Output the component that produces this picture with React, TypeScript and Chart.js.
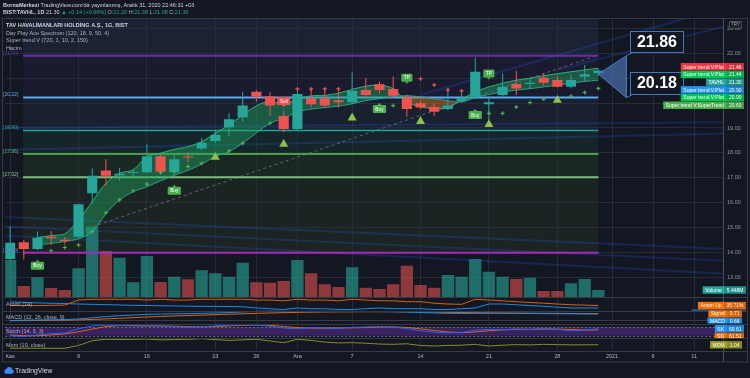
import React, { useEffect, useRef } from 'react';
import { Chart, registerables } from 'chart.js';

Chart.register(...registerables);

const FONT = '"Liberation Sans", "DejaVu Sans", Arial, sans-serif';
const BG = '#131722';
const GRID = 'rgba(42,46,57,0.9)';
const UP = '#26a69a';
const DOWN = '#ef5350';
const TEXT = '#d1d4dc';
const MUTED = '#aeb1ba';

// ---------- data ----------
const dates = ['2 Kas','3 Kas','4 Kas','5 Kas','6 Kas','9 Kas','10 Kas','11 Kas','12 Kas','13 Kas','16 Kas','17 Kas','18 Kas','19 Kas','20 Kas','23 Kas','24 Kas','25 Kas','26 Kas','27 Kas','30 Kas','1 Ara','2 Ara','3 Ara','4 Ara','7 Ara','8 Ara','9 Ara','10 Ara','11 Ara','14 Ara','15 Ara','16 Ara','17 Ara','18 Ara','21 Ara','22 Ara','23 Ara','24 Ara','25 Ara','28 Ara','29 Ara','30 Ara','31 Ara'];
const opens = [13.74,14.41,14.14,14.63,14.51,14.63,16.38,17.29,17.10,17.19,17.22,17.87,17.22,17.86,18.18,18.48,19.03,19.43,20.46,20.28,19.48,18.96,20.19,20.19,20.11,20.03,20.53,20.76,20.57,20.19,19.99,19.84,19.76,20.08,20.26,19.95,20.33,20.77,20.77,21.02,20.93,20.66,21.06,21.20];
const highs = [15.04,14.50,14.84,14.86,14.62,15.96,17.38,17.75,17.40,17.36,18.35,17.94,17.95,18.04,18.60,18.93,19.59,20.46,20.52,20.44,19.68,20.57,20.56,20.52,20.52,21.24,21.01,20.87,21.07,20.33,20.10,19.98,20.50,20.45,21.82,20.26,21.20,21.30,21.00,21.20,21.10,21.15,21.53,21.38];
const lows = [13.70,13.72,14.10,14.30,14.33,14.58,15.97,16.68,16.88,17.08,17.18,17.20,17.10,17.62,18.10,18.40,18.66,19.25,20.05,19.48,18.83,18.90,19.82,19.80,19.82,19.95,20.25,20.40,20.21,19.45,19.75,19.48,19.70,20.00,20.15,19.32,20.20,20.33,20.60,20.70,20.62,20.60,20.86,21.08];
const closes = [14.39,14.14,14.59,14.57,14.46,15.94,17.08,17.08,17.16,17.21,17.87,17.24,17.75,17.82,18.41,18.72,19.35,19.90,20.26,19.90,18.96,20.37,19.95,19.90,20.03,20.49,20.33,20.53,20.30,19.76,19.82,19.65,19.90,20.19,21.26,20.03,20.66,20.59,20.82,20.82,20.66,20.93,21.16,21.30];
const volumes = [28.8,8.6,15.3,7.0,5.4,22.3,54.7,35.8,30.6,11.4,31.9,11.7,15.8,13.8,20.8,18.4,15.8,26.7,11.4,11.1,12.5,28.8,18.4,9.9,7.8,23.1,7.2,6.2,9.9,24.4,9.3,7.2,17.1,15.8,29.6,19.7,15.8,14.0,15.0,4.7,4.7,10.7,14.0,5.448];

const bandFast = [null,null,14.60,14.68,14.75,15.30,16.04,16.78,17.18,17.32,17.85,17.99,18.14,18.25,18.45,18.79,19.12,19.52,19.89,20.08,19.95,20.15,20.29,20.31,20.40,20.55,20.68,20.72,20.58,20.05,19.85,19.78,19.80,20.15,20.45,20.65,20.80,20.92,21.00,21.10,21.18,21.26,21.33,21.40];
const bandSlow = [null,null,14.30,14.37,14.44,14.55,14.83,15.55,16.11,16.44,16.64,16.88,17.10,17.30,17.55,17.85,18.05,18.39,18.80,19.19,19.39,19.65,19.76,19.82,19.88,19.97,20.10,20.18,20.25,20.30,20.25,20.18,20.10,20.05,20.22,20.35,20.45,20.52,20.58,20.65,20.72,20.80,20.87,20.92];

const greenDotIdx = [3,4,5,6,7,8,9,10,11,12,13,14,16,17,19,28,35,36,37,38,39,41,42,43];
const greenDotVal = [14.07,14.20,14.30,14.84,15.60,16.11,16.48,16.75,17.21,17.25,17.45,17.58,18.08,18.39,19.19,19.90,19.59,19.59,19.84,20.02,20.16,20.28,20.43,20.59];
const redDotIdx = [21,22,23,24,30,31,32,33];
const redDotVal = [20.57,20.57,20.57,20.57,20.97,20.73,20.53,20.49];
const triangleIdx = [15,20,25,30,35,40];
const triangleVal = [17.83,18.35,19.41,19.27,19.14,20.12];

const signalIdx = [2,12,20,27,29,34,35];
const signalText = ['Buy','Buy','Sell','Buy','TP','Buy','TP'];
const signalVal = [13.47,16.48,20.08,19.76,21.02,19.52,21.19];

const levelValues = [21.90, 20.22, 18.90, 17.96, 17.02, 13.99];
const levelTags = ['[21.90]', '[20.22]', '[18.90]', '[17.96]', '[17.02]', '[13.99]'];
const levelColors = ['#6a2fb0', '#5aa9f5', '#1fa597', '#43a047', '#7cc07f', '#a52bb8'];
const levelTagColors = ['#5a3a9a', '#5aa9f5', '#1fa597', '#5fb062', '#8ccf8e', '#7c6cd0'];
const zoneColors = ['#1b2234', '#1b1b2f', '#19202f', '#15252a', '#1a2723', '#1c2423'];
const zoneIdx = [0.95, 43];

const channels = [
  [-1, 15.44, 54, 14.10],
  [-1, 15.06, 54, 13.62],
  [-1, 14.70, 54, 13.10],
  [-1, 19.00, 54, 19.24],
  [-1, 18.11, 54, 18.80],
  [30, 20.33, 54, 24.14],
  [40, 21.33, 54, 23.34],
];
const trendFrom = [6.04, 15.04];
const trendTo = [43, 21.93];

const calloutTexts = ['21.86', '20.18'];
const calloutAnchorIdx = 45.05;
const calloutApex = [43, 21.17];

const aroonUp = [36,36,36,38,40,86,93,93,93,93,86,93,86,86,93,93,93,93,86,86,79,93,86,86,79,93,86,79,79,71,71,57,50,47,93,86,79,71,64,57,50,43,40,35.71];
const aroonDown = [69,64,60,57,54,50,47,44,41,38,36,34,32,30,29,28,27,25,14,7,0,14,7,7,0,0,7,14,7,7,7,0,0,7,14,50,50,43,36,29,21,14,14,14.29];
const macdLine = [-0.05,-0.03,0,0.02,0.04,0.12,0.25,0.38,0.48,0.55,0.62,0.66,0.69,0.71,0.74,0.78,0.83,0.90,0.96,0.98,0.97,0.95,0.97,0.97,0.96,0.96,0.95,0.94,0.92,0.88,0.83,0.78,0.74,0.72,0.74,0.74,0.74,0.73,0.72,0.71,0.70,0.69,0.67,0.66];
const macdSignal = [-0.08,-0.07,-0.05,-0.03,-0.02,0.01,0.06,0.12,0.19,0.26,0.33,0.39,0.45,0.50,0.54,0.59,0.64,0.69,0.74,0.78,0.82,0.85,0.87,0.89,0.90,0.91,0.92,0.92,0.92,0.91,0.90,0.88,0.85,0.83,0.81,0.79,0.78,0.77,0.76,0.75,0.74,0.73,0.72,0.71];
const stochK = [20,15,25,35,40,70,90,95,92,90,88,90,85,80,85,90,95,97,95,88,75,70,78,75,72,80,82,85,82,70,55,45,40,42,60,65,62,68,65,70,66,55,60,69.61];
const stochD = [25,20,20,25,33,48,67,85,92,92,90,89,88,85,83,85,90,94,96,93,86,78,74,74,75,76,78,82,83,79,69,57,47,42,47,56,62,65,65,68,67,64,60,61.51];
const stochBand = [80, 20];
const momentum = [-0.2,-0.2,-0.2,-0.2,-0.2,0.8,2.5,3.0,2.9,3.0,3.1,2.8,2.9,3.0,3.2,2.9,2.6,2.8,3.0,2.4,1.8,3.0,2.6,2.0,1.7,1.8,1.6,1.3,1.2,1.4,0.8,0.6,0.8,0.9,1.2,0.6,0.9,1.1,1.0,1.2,1.1,1.0,1.05,1.04];

const xTickIdx = [0, 5, 10, 15, 18, 21, 25, 30, 35, 40, 44, 47, 50];
const xTickLabels = ['Kas', '9', '16', '23', '26', 'Ara', '7', '14', '21', '28', '2021', '6', '11'];
const priceTicks = [13, 14, 15, 16, 17, 18, 19, 20, 21, 22, 23];
const xView = [-0.36, 52.11];

const upperTagNames = ['Super trend V:Plot', 'Super trend V:Plot', 'TAVHL', 'Super trend V:Plot', 'Super trend V:Plot', 'Super trend V:SuperTrend'];
const upperTagValues = [21.46, 21.44, 21.30, 20.90, 20.90, 20.60];
const upperTagColors = ['#f23645', '#00c853', '#26a69a', '#2196f3', '#00c853', '#4caf50'];

// ---------- layout ----------
const CA_TOP = 18;
const CA_BOTTOM = 350;
const PANES = { main: [18, 297], aroon: [297, 310.5], macd: [310.5, 323.5], stoch: [323.5, 338], mom: [338, 350.5] };

function axisRange(v1: number, y1: number, v2: number, y2: number) {
  const k = (y1 - y2) / (v2 - v1);
  const min = v1 - (CA_BOTTOM - y1) / k;
  return { min, max: min + (CA_BOTTOM - CA_TOP) / k };
}

const rPrice = axisRange(13, 277.4, 23, 28.4);
const rVol = axisRange(0, 297, 100, 297 - 128.5);
const rAroon = axisRange(0, 309.5, 100, 298.5);
const rMacd = axisRange(0, 320, 1, 311);
const rStoch = axisRange(0, 338.5, 100, 324.5);
const rMom = axisRange(0, 347.7, 1, 344.9);

const isUp = (i: number) => closes[i] >= opens[i];

function drawTag(ctx: any, rightX: number, cy: number, name: string, value: string, color: string) {
  ctx.font = `5px ${FONT}`;
  const nw = ctx.measureText(name).width;
  const vw = ctx.measureText(value).width;
  const w = nw + vw + 10;
  const h = 7.4;
  const x0 = rightX - w;
  ctx.fillStyle = color;
  ctx.fillRect(x0, cy - h / 2, w, h);
  ctx.fillStyle = 'rgba(0,0,0,0.12)';
  ctx.fillRect(x0 + nw + 5, cy - h / 2, vw + 5, h);
  ctx.fillStyle = '#ffffff';
  ctx.textAlign = 'left';
  ctx.textBaseline = 'middle';
  ctx.fillText(name, x0 + 2.5, cy + 0.4);
  ctx.fillText(value, x0 + nw + 7.5, cy + 0.4);
}

function drawStack(ctx: any, items: any[], rightX: number, clip: number[]) {
  const placed = items.map((it) => ({ ...it })).sort((a, b) => a.y - b.y);
  let prev = -1e9;
  placed.forEach((p) => { p.cy = Math.max(p.y, prev + 7.7); prev = p.cy; });
  ctx.save();
  ctx.beginPath();
  ctx.rect(0, clip[0], 750, clip[1] - clip[0]);
  ctx.clip();
  for (let k = placed.length - 1; k >= 0; k--) {
    const p = placed[k];
    drawTag(ctx, rightX, p.cy, p.name, p.value, p.color);
  }
  ctx.restore();
}

function drawRuns(ctx: any, x: number, y: number, runs: any[], size: number) {
  let cx = x;
  for (const [text, color, bold] of runs) {
    ctx.font = `${bold ? 'bold ' : ''}${size}px ${FONT}`;
    ctx.fillStyle = color;
    ctx.fillText(text, cx, y);
    cx += ctx.measureText(text).width;
  }
}

function hline(ctx: any, x1: number, x2: number, y: number) {
  ctx.beginPath();
  ctx.moveTo(x1, Math.round(y) + 0.5);
  ctx.lineTo(x2, Math.round(y) + 0.5);
  ctx.stroke();
}

const overlay = {
  id: 'tvOverlay',
  beforeDraw(chart: any) {
    const { ctx, chartArea: ca, scales } = chart;
    const x = scales.x;
    const y = scales.y;
    ctx.save();
    ctx.fillStyle = BG;
    ctx.fillRect(0, 0, chart.width, chart.height);
    const xl = x.getPixelForValue(zoneIdx[0]);
    const xr = x.getPixelForValue(zoneIdx[1]);
    const bounds = [ca.top, ...levelValues.map((v) => y.getPixelForValue(v))];
    for (let k = 0; k < zoneColors.length; k++) {
      ctx.fillStyle = zoneColors[k];
      ctx.fillRect(xl, bounds[k], xr - xl, bounds[k + 1] - bounds[k]);
    }
    const st = scales.ySt;
    const s1 = st.getPixelForValue(stochBand[0]);
    const s2 = st.getPixelForValue(stochBand[1]);
    ctx.fillStyle = 'rgba(103,48,170,0.45)';
    ctx.fillRect(ca.left, s1, ca.right - ca.left, s2 - s1);
    ctx.strokeStyle = 'rgba(140,140,155,0.7)';
    ctx.lineWidth = 1;
    ctx.setLineDash([2, 2]);
    hline(ctx, ca.left, ca.right, s1);
    hline(ctx, ca.left, ca.right, s2);
    ctx.setLineDash([]);
    const mz = scales.yMacd.getPixelForValue(0);
    ctx.strokeStyle = 'rgba(120,123,134,0.35)';
    hline(ctx, ca.left, ca.right, mz);
    ctx.restore();
  },
  afterDraw(chart: any) {
    const { ctx, chartArea: ca, scales } = chart;
    const x = scales.x;
    const y = scales.y;
    ctx.save();
    ctx.textBaseline = 'middle';

    // pane separators, frame, axis line
    ctx.strokeStyle = '#363a45';
    ctx.lineWidth = 1;
    [PANES.main[1], PANES.aroon[1], PANES.macd[1], PANES.stoch[1], PANES.mom[1]].forEach((s) => hline(ctx, 2, 747, s));
    ctx.strokeRect(2.5, 18.5, 745, 343.5);
    ctx.strokeStyle = '#4a4e59';
    ctx.beginPath();
    ctx.moveTo(Math.round(ca.right) + 0.5, 18);
    ctx.lineTo(Math.round(ca.right) + 0.5, 362);
    ctx.stroke();

    // signal labels
    for (let k = 0; k < signalIdx.length; k++) {
      const px = x.getPixelForValue(signalIdx[k]);
      const py = y.getPixelForValue(signalVal[k]);
      const t = signalText[k];
      const buy = t === 'Buy';
      const col = t === 'Sell' ? '#ef5350' : '#4caf50';
      ctx.font = `4.8px ${FONT}`;
      const tw = ctx.measureText(t).width;
      const w = tw + 5;
      const h = 8;
      ctx.fillStyle = col;
      if (ctx.roundRect) { ctx.beginPath(); ctx.roundRect(px - w / 2, py - h / 2, w, h, 1.2); ctx.fill(); }
      else ctx.fillRect(px - w / 2, py - h / 2, w, h);
      ctx.beginPath();
      if (buy) { ctx.moveTo(px - 2, py - h / 2); ctx.lineTo(px, py - h / 2 - 2); ctx.lineTo(px + 2, py - h / 2); }
      else { ctx.moveTo(px - 2, py + h / 2); ctx.lineTo(px, py + h / 2 + 2); ctx.lineTo(px + 2, py + h / 2); }
      ctx.fill();
      ctx.fillStyle = '#ffffff';
      ctx.textAlign = 'center';
      ctx.fillText(t, px, py + 0.4);
    }

    // target callout
    const ax = x.getPixelForValue(calloutApex[0]);
    const ay = y.getPixelForValue(calloutApex[1]);
    const tx = x.getPixelForValue(calloutAnchorIdx);
    const yA = y.getPixelForValue(levelValues[0]);
    const yB = y.getPixelForValue(levelValues[1]);
    ctx.fillStyle = 'rgba(70,110,170,0.72)';
    ctx.strokeStyle = '#4a7cc0';
    ctx.beginPath();
    ctx.moveTo(ax, ay);
    ctx.lineTo(tx, yA);
    ctx.lineTo(tx, yB);
    ctx.closePath();
    ctx.fill();
    ctx.stroke();
    [yA, yB].forEach((vy, k) => {
      const bw = 53;
      const bh = k === 0 ? 21 : 22;
      const bx = tx + 4;
      const by = vy - 3.7 - bh;
      ctx.strokeStyle = '#3f78c0';
      ctx.beginPath();
      ctx.moveTo(tx, vy);
      ctx.lineTo(bx + 3, by + bh);
      ctx.stroke();
      ctx.fillStyle = BG;
      ctx.fillRect(bx, by, bw, bh);
      ctx.strokeRect(Math.round(bx) + 0.5, Math.round(by) + 0.5, bw, bh);
      ctx.fillStyle = '#ffffff';
      ctx.textAlign = 'center';
      ctx.font = `bold 16px ${FONT}`;
      ctx.fillText(calloutTexts[k], bx + bw / 2, by + bh / 2 + 1);
    });

    // right tags, upper group
    drawStack(ctx, upperTagNames.map((n, k) => ({ name: n, value: upperTagValues[k].toFixed(2), color: upperTagColors[k], y: y.getPixelForValue(upperTagValues[k]) })), 744, PANES.main);
    // lower tags
    const last = volumes.length - 1;
    drawStack(ctx, [{ name: 'Volume', value: volumes[last].toFixed(3) + 'M', color: '#26a69a', y: scales.yVol.getPixelForValue(volumes[last]) }], 746, PANES.main);
    drawStack(ctx, [
      { name: 'Aroon Up', value: aroonUp[last].toFixed(2) + '%', color: '#ff6d00', y: scales.yAr.getPixelForValue(aroonUp[last]) },
      { name: 'Aroon Down', value: aroonDown[last].toFixed(2) + '%', color: '#2196f3', y: scales.yAr.getPixelForValue(aroonDown[last]) },
    ], 746, PANES.aroon);
    drawStack(ctx, [
      { name: 'Signal', value: macdSignal[last].toFixed(2), color: '#ff6d00', y: scales.yMacd.getPixelForValue(macdSignal[last]) },
      { name: 'MACD', value: macdLine[last].toFixed(2), color: '#2196f3', y: scales.yMacd.getPixelForValue(macdLine[last]) },
    ], 742, PANES.macd);
    drawStack(ctx, [
      { name: 'SK', value: stochK[last].toFixed(2), color: '#2196f3', y: scales.ySt.getPixelForValue(stochK[last]) },
      { name: 'SD', value: stochD[last].toFixed(2), color: '#ff6d00', y: scales.ySt.getPixelForValue(stochD[last]) },
    ], 744, PANES.stoch);
    drawStack(ctx, [{ name: 'MOM', value: momentum[last].toFixed(2), color: '#9e9d24', y: scales.yMom.getPixelForValue(momentum[last]) }], 742, PANES.mom);

    // level tags
    ctx.textAlign = 'left';
    ctx.font = `5px ${FONT}`;
    levelValues.forEach((v, k) => {
      ctx.fillStyle = levelTagColors[k];
      ctx.fillText(levelTags[k], 3, y.getPixelForValue(v) - 2.6);
    });

    // legend
    drawRuns(ctx, 6, 25.5, [['TAV HAVALİMANLARI HOLDİNG A.Ş., 1G, BIST', TEXT, true]], 5.5);
    drawRuns(ctx, 6, 33, [['Day Play Ace Spectrum (120, 18, 9, 50, 4)', MUTED, false]], 5.5);
    drawRuns(ctx, 6, 40.5, [['Super trend V (720, 1, 10, 2, 150)', MUTED, false]], 5.5);
    drawRuns(ctx, 6, 48, [['Hacim', MUTED, false]], 5.5);
    drawRuns(ctx, 6, 304.3, [['Aroon (14)', MUTED, false]], 5.5);
    drawRuns(ctx, 6, 317.7, [['MACD (12, 26, close, 9)', MUTED, false]], 5.5);
    drawRuns(ctx, 6, 331, [['Stoch (14, 3, 3)', MUTED, false]], 5.5);
    drawRuns(ctx, 6, 345, [['Mom (10, close)', MUTED, false]], 5.5);

    // header
    const chg = closes[last] - closes[last - 1];
    const pct = (chg / closes[last - 1]) * 100;
    drawRuns(ctx, 3, 5, [['BornaMerkezi', TEXT, true], [" TradingView.com'da yayınlanmış, Aralık 31, 2020 22:46:31 +03", TEXT, false]], 5.5);
    drawRuns(ctx, 3, 12.5, [
      ['BIST:TAVHL, 1D ', TEXT, true], [closes[last].toFixed(2) + ' ', TEXT, false],
      ['▲ +' + chg.toFixed(2) + ' (+' + pct.toFixed(2) + '%) ', UP, false],
      ['O:', MUTED, false], [opens[last].toFixed(2) + ' ', UP, false],
      ['H:', MUTED, false], [highs[last].toFixed(2) + ' ', UP, false],
      ['L:', MUTED, false], [lows[last].toFixed(2) + ' ', UP, false],
      ['C:', MUTED, false], [closes[last].toFixed(2), UP, false],
    ], 5.5);

    // currency box
    ctx.fillStyle = BG;
    ctx.fillRect(729, 21, 12, 7);
    ctx.strokeStyle = '#4a4e59';
    ctx.strokeRect(729.5, 21.5, 12, 6.5);
    ctx.fillStyle = MUTED;
    ctx.textAlign = 'center';
    ctx.font = `4.5px ${FONT}`;
    ctx.fillText('TRY', 735.5, 25);

    // logo
    ctx.fillStyle = '#3d8bfd';
    ctx.beginPath(); ctx.arc(6.5, 371.5, 2.2, 0, Math.PI * 2); ctx.fill();
    ctx.beginPath(); ctx.arc(9.2, 369.8, 2.8, 0, Math.PI * 2); ctx.fill();
    ctx.beginPath(); ctx.arc(11.8, 371.6, 2.0, 0, Math.PI * 2); ctx.fill();
    ctx.fillRect(6.5, 371.2, 5.3, 2.5);
    ctx.textAlign = 'left';
    ctx.fillStyle = TEXT;
    ctx.font = `6.8px ${FONT}`;
    ctx.fillText('TradingView', 15, 371);
    ctx.restore();
  },
};

function buildConfig() {
  const datasets: any[] = [];
  const candleColors = dates.map((_, i) => (isUp(i) ? UP : DOWN));
  datasets.push({
    type: 'bar', label: 'body', yAxisID: 'y', order: 10,
    data: dates.map((_, i) => ({ x: i, y: [opens[i], closes[i]] })),
    backgroundColor: candleColors, grouped: false, barPercentage: 0.74, categoryPercentage: 1, minBarLength: 1, borderWidth: 0,
  });
  datasets.push({
    type: 'bar', label: 'wick', yAxisID: 'y', order: 20,
    data: dates.map((_, i) => ({ x: i, y: [lows[i], highs[i]] })),
    backgroundColor: candleColors, grouped: false, barPercentage: 0.075, categoryPercentage: 1, borderWidth: 0,
  });
  datasets.push({
    type: 'bar', label: 'Hacim', yAxisID: 'yVol', order: 100,
    data: volumes.map((v, i) => ({ x: i, y: v })),
    backgroundColor: dates.map((_, i) => (isUp(i) ? 'rgba(38,166,154,0.6)' : 'rgba(239,83,80,0.56)')),
    grouped: false, barPercentage: 0.9, categoryPercentage: 1, borderWidth: 0,
  });
  const bandIndex = datasets.length;
  const pts = (arr: any[]) => arr.map((v, i) => (v == null ? null : { x: i, y: v })).filter(Boolean);
  datasets.push({
    type: 'line', label: 'spectrumFast', yAxisID: 'y', order: 70, data: pts(bandFast),
    borderColor: 'rgba(40,190,120,0.95)', borderWidth: 1, pointRadius: 0, tension: 0.3,
    fill: { target: bandIndex + 1, above: 'rgba(30,165,95,0.45)', below: 'rgba(196,112,40,0.5)' },
  });
  datasets.push({
    type: 'line', label: 'spectrumSlow', yAxisID: 'y', order: 71, data: pts(bandSlow),
    borderColor: 'rgba(38,166,154,0.95)', borderWidth: 1, pointRadius: 0, tension: 0.3,
  });
  levelValues.forEach((v, k) => {
    datasets.push({
      type: 'line', label: 'level' + k, yAxisID: 'y', order: 80,
      data: [{ x: zoneIdx[0], y: v }, { x: zoneIdx[1], y: v }],
      borderColor: levelColors[k], borderWidth: k === 2 ? 1.5 : 2, pointRadius: 0,
    });
  });
  channels.forEach((c, k) => {
    datasets.push({
      type: 'line', label: 'channel' + k, yAxisID: 'y', order: 90,
      data: [{ x: c[0], y: c[1] }, { x: c[2], y: c[3] }],
      borderColor: 'rgba(41,98,255,0.2)', borderWidth: 2.2, pointRadius: 0,
    });
  });
  datasets.push({
    type: 'line', label: 'trend', yAxisID: 'y', order: 85,
    data: [{ x: trendFrom[0], y: trendFrom[1] }, { x: trendTo[0], y: trendTo[1] }],
    borderColor: 'rgba(140,145,160,0.6)', borderWidth: 1, borderDash: [3, 3], pointRadius: 0,
  });
  const ind = (label: string, arr: number[], axis: string, color: string) => ({
    type: 'line', label, yAxisID: axis, order: 60, data: arr.map((v, i) => ({ x: i, y: v })),
    borderColor: color, borderWidth: 1, pointRadius: 0, tension: 0,
  });
  datasets.push(ind('Aroon Up', aroonUp, 'yAr', '#d9600f'));
  datasets.push(ind('Aroon Down', aroonDown, 'yAr', '#1e88e5'));
  datasets.push(ind('MACD', macdLine, 'yMacd', '#1e88e5'));
  datasets.push(ind('Signal', macdSignal, 'yMacd', '#e0650f'));
  datasets.push(ind('SK', stochK, 'ySt', '#2962ff'));
  datasets.push(ind('SD', stochD, 'ySt', '#e0650f'));
  datasets.push(ind('Mom', momentum, 'yMom', '#8c8a22'));
  datasets.push({
    type: 'line', label: 'trailUp', yAxisID: 'y', order: 5, showLine: false,
    data: greenDotIdx.map((i, k) => ({ x: i, y: greenDotVal[k] })),
    pointStyle: 'cross', pointRadius: 2, pointBorderColor: '#4caf50', pointBorderWidth: 1.2,
  });
  datasets.push({
    type: 'line', label: 'trailDown', yAxisID: 'y', order: 5, showLine: false,
    data: redDotIdx.map((i, k) => ({ x: i, y: redDotVal[k] })),
    pointStyle: 'cross', pointRadius: 2, pointBorderColor: '#ef5350', pointBorderWidth: 1.2,
  });
  datasets.push({
    type: 'line', label: 'arrows', yAxisID: 'y', order: 5, showLine: false,
    data: triangleIdx.map((i, k) => ({ x: i, y: triangleVal[k] })),
    pointStyle: 'triangle', pointRadius: 5.2, pointBackgroundColor: '#8bc34a', pointBorderColor: '#8bc34a', pointBorderWidth: 0,
  });

  const hidden = (r: any) => ({ type: 'linear', display: false, min: r.min, max: r.max });

  return {
    type: 'line',
    data: { datasets },
    options: {
      responsive: false,
      maintainAspectRatio: false,
      animation: false,
      devicePixelRatio: 1,
      events: [],
      layout: { padding: { top: CA_TOP, left: 2, right: 0, bottom: 16 } },
      plugins: { legend: { display: false }, tooltip: { enabled: false } },
      scales: {
        x: {
          type: 'linear', min: xView[0], max: xView[1], offset: false,
          border: { display: false },
          grid: { color: GRID, drawTicks: false, offset: false },
          ticks: {
            autoSkip: false, maxRotation: 0, minRotation: 0, padding: 3, color: '#b2b5be',
            font: { size: 5.5, family: FONT },
            callback: (_v: any, k: number) => xTickLabels[k] ?? '',
          },
          afterBuildTicks: (a: any) => { a.ticks = xTickIdx.map((v) => ({ value: v })); },
          afterFit: (a: any) => { a.height = 12; a.paddingLeft = 0; a.paddingRight = 0; },
        },
        y: {
          type: 'linear', position: 'right', min: rPrice.min, max: rPrice.max,
          border: { display: false },
          grid: { color: GRID, drawTicks: false },
          ticks: { padding: 4, color: '#9598a1', font: { size: 5.5, family: FONT }, callback: (v: any) => Number(v).toFixed(2) },
          afterBuildTicks: (a: any) => { a.ticks = priceTicks.map((v) => ({ value: v })); },
          afterFit: (a: any) => { a.width = 27; a.paddingTop = 0; a.paddingBottom = 0; },
        },
        yVol: hidden(rVol),
        yAr: hidden(rAroon),
        yMacd: hidden(rMacd),
        ySt: hidden(rStoch),
        yMom: hidden(rMom),
      },
    },
    plugins: [overlay],
  };
}

export default function App() {
  const ref = useRef<HTMLCanvasElement>(null);
  useEffect(() => {
    const chart = new Chart(ref.current as HTMLCanvasElement, buildConfig() as any);
    return () => chart.destroy();
  }, []);
  return (
    <div style={{ position: 'fixed', left: 0, top: 0, width: 750, height: 378, background: BG, overflow: 'hidden' }}>
      <canvas ref={ref} width={750} height={378} style={{ display: 'block', width: 750, height: 378 }} />
    </div>
  );
}
